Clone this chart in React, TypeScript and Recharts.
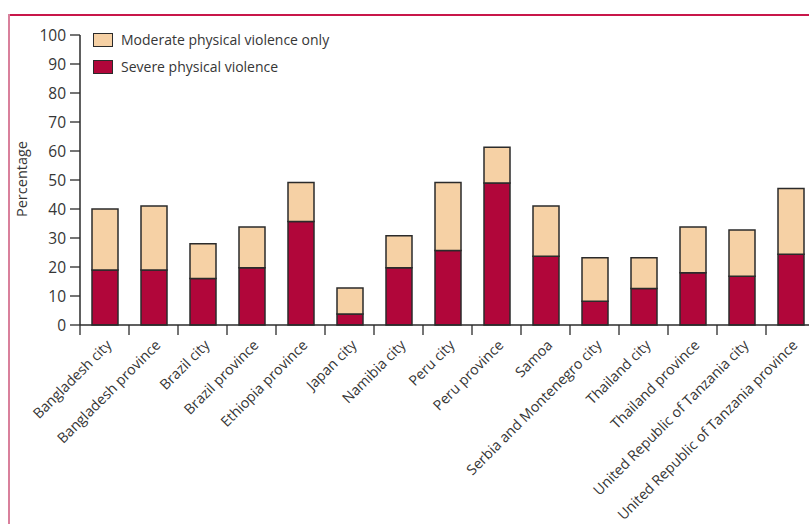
import React from 'react'
import { BarChart, Bar, XAxis, YAxis } from 'recharts'

// Sites surveyed
const sites = [
  'Bangladesh city',
  'Bangladesh province',
  'Brazil city',
  'Brazil province',
  'Ethiopia province',
  'Japan city',
  'Namibia city',
  'Peru city',
  'Peru province',
  'Samoa',
  'Serbia and Montenegro city',
  'Thailand city',
  'Thailand province',
  'United Republic of Tanzania city',
  'United Republic of Tanzania province',
]

// Women reporting severe physical violence (%)
const severe = [19, 19, 16, 19.7, 35.7, 3.8, 19.7, 25.7, 49, 23.7, 8.2, 12.6, 18, 16.8, 24.4]
// Women reporting moderate physical violence only (%)
const moderate = [21, 22, 12, 14.1, 13.4, 9, 11.1, 23.4, 12.3, 17.3, 15, 10.6, 15.8, 16, 22.7]

const yTicks = [0, 10, 20, 30, 40, 50, 60, 70, 80, 90, 100]

const SEVERE_COLOR = '#b1063a'
const MODERATE_COLOR = '#f6d1a5'
const EDGE = '#2b2b2b'
const TEXT = '#363636'
const FONT = '"Open Sans", "Noto Sans", sans-serif'

const CHART_W = 830
const PLOT_LEFT = 80
const PLOT_RIGHT_MARGIN = 15

const data = sites.map((site, i) => ({
  site,
  severe: severe[i],
  moderate: moderate[i],
}))

const legendItems = [
  { label: 'Moderate physical violence only', color: MODERATE_COLOR },
  { label: 'Severe physical violence', color: SEVERE_COLOR },
]

const CategoryTick = (props: any) => {
  const { x, y, payload } = props
  const fallback = (CHART_W - PLOT_LEFT - PLOT_RIGHT_MARGIN) / sites.length / 2
  const half = payload && payload.offset ? payload.offset : fallback
  const tx = x + 8
  const ty = y + 21
  return (
    <g>
      <line x1={x - half} x2={x - half} y1={y} y2={y + 10} stroke={EDGE} strokeWidth={1.3} />
      <text
        x={tx}
        y={ty}
        textAnchor="end"
        transform={`rotate(-45, ${tx}, ${ty})`}
        fill={TEXT}
        fontSize={14.3}
        fontFamily={FONT}
      >
        {payload.value}
      </text>
    </g>
  )
}

const LegendBox = () => (
  <div
    style={{
      position: 'absolute',
      left: 93,
      top: 26,
      fontFamily: FONT,
      fontSize: 14,
      color: TEXT,
    }}
  >
    {legendItems.map((item) => (
      <div key={item.label} style={{ display: 'flex', alignItems: 'center', height: 27 }}>
        <span
          style={{
            display: 'inline-block',
            width: 18,
            height: 12,
            background: item.color,
            border: `1.3px solid ${EDGE}`,
            marginRight: 8,
          }}
        />
        <span>{item.label}</span>
      </div>
    ))}
  </div>
)

const YTitle = () => (
  <text
    transform="translate(27, 179) rotate(-90)"
    textAnchor="middle"
    fill={TEXT}
    fontSize={14.5}
    fontFamily={FONT}
  >
    Percentage
  </text>
)

export default function App() {
  return (
    <div
      style={{
        position: 'fixed',
        top: 0,
        left: 0,
        width: 809,
        height: 524,
        overflow: 'hidden',
        background: '#fff',
      }}
    >
      {/* frame rules */}
      <div style={{ position: 'absolute', left: 8, top: 14, width: 801, height: 1.5, background: '#c8174a' }} />
      <div style={{ position: 'absolute', left: 8, top: 14, width: 1.5, height: 510, background: '#d9809c' }} />

      <div style={{ position: 'absolute', left: 0, top: 0 }}>
        <BarChart
          width={CHART_W}
          height={524}
          data={data}
          margin={{ top: 35, right: PLOT_RIGHT_MARGIN, left: 0, bottom: 0 }}
          barSize={26}
        >
          <XAxis
            dataKey="site"
            interval={0}
            height={199}
            tickSize={0}
            tickMargin={0}
            tickLine={false}
            axisLine={{ stroke: EDGE, strokeWidth: 1.5 }}
            tick={<CategoryTick />}
          />
          <YAxis
            width={PLOT_LEFT}
            domain={[0, 100]}
            ticks={yTicks}
            interval={0}
            tickSize={10}
            tickMargin={4}
            axisLine={{ stroke: EDGE, strokeWidth: 1.5 }}
            tickLine={{ stroke: EDGE, strokeWidth: 1.3 }}
            tick={{ fill: TEXT, fontSize: 15.5, fontFamily: FONT }}
            label={<YTitle />}
          />
          <Bar
            dataKey="severe"
            name="Severe physical violence"
            stackId="v"
            fill={SEVERE_COLOR}
            stroke={EDGE}
            strokeWidth={1.5}
            isAnimationActive={false}
          />
          <Bar
            dataKey="moderate"
            name="Moderate physical violence only"
            stackId="v"
            fill={MODERATE_COLOR}
            stroke={EDGE}
            strokeWidth={1.5}
            isAnimationActive={false}
          />
        </BarChart>
      </div>
      <LegendBox />
    </div>
  )
}
